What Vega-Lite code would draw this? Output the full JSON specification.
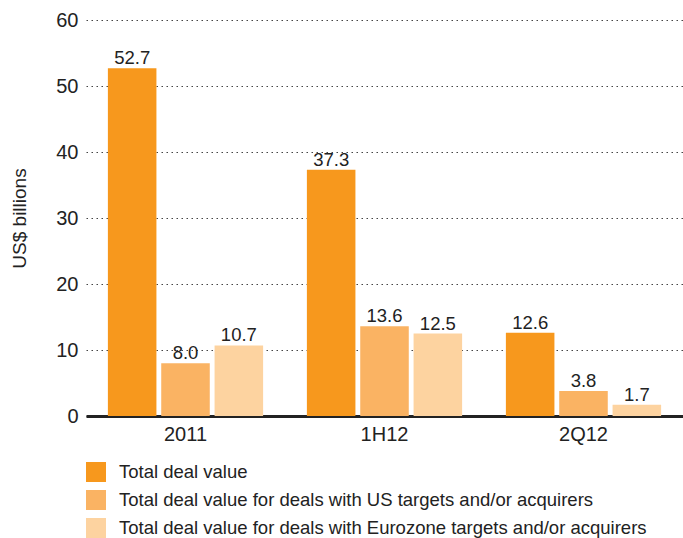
{
  "$schema": "https://vega.github.io/schema/vega-lite/v6.json",
  "width": 597,
  "height": 396,
  "autosize": "none",
  "padding": {"left": 86, "top": 20, "right": 0, "bottom": 122},
  "background": "white",
  "config": {
    "view": {"stroke": null},
    "font": "Liberation Sans"
  },
  "data": {
    "values": [
      {"period": "2011", "series": "Total deal value", "value": 52.7},
      {"period": "2011", "series": "Total deal value for deals with US targets and/or acquirers", "value": 8.0},
      {"period": "2011", "series": "Total deal value for deals with Eurozone targets and/or acquirers", "value": 10.7},
      {"period": "1H12", "series": "Total deal value", "value": 37.3},
      {"period": "1H12", "series": "Total deal value for deals with US targets and/or acquirers", "value": 13.6},
      {"period": "1H12", "series": "Total deal value for deals with Eurozone targets and/or acquirers", "value": 12.5},
      {"period": "2Q12", "series": "Total deal value", "value": 12.6},
      {"period": "2Q12", "series": "Total deal value for deals with US targets and/or acquirers", "value": 3.8},
      {"period": "2Q12", "series": "Total deal value for deals with Eurozone targets and/or acquirers", "value": 1.7}
    ]
  },
  "encoding": {
    "x": {
      "field": "period", "type": "nominal", "sort": ["2011", "1H12", "2Q12"],
      "scale": {"paddingInner": 0.22, "paddingOuter": 0.11},
      "axis": {"title": null, "labelAngle": 0, "labelFontSize": 20, "labelColor": "#222", "labelPadding": 8,
               "ticks": false, "domainColor": "#222", "domainWidth": 3}
    },
    "xOffset": {
      "field": "series", "type": "nominal",
      "sort": ["Total deal value", "Total deal value for deals with US targets and/or acquirers", "Total deal value for deals with Eurozone targets and/or acquirers"],
      "scale": {"paddingInner": 0.09}
    },
    "y": {
      "field": "value", "type": "quantitative",
      "scale": {"domain": [0, 60]},
      "axis": {"title": "US$ billions", "titleFontSize": 19, "titleFontWeight": "normal", "titleColor": "#222", "titlePadding": 26,
               "values": [0, 10, 20, 30, 40, 50, 60], "labelFontSize": 20, "labelColor": "#222", "labelPadding": 8,
               "ticks": false, "domain": false, "gridColor": "#444", "gridDash": [1.5, 3.5], "gridWidth": 1}
    }
  },
  "layer": [
    {
      "mark": {"type": "bar"},
      "encoding": {
        "color": {
          "field": "series", "type": "nominal",
          "sort": ["Total deal value", "Total deal value for deals with US targets and/or acquirers", "Total deal value for deals with Eurozone targets and/or acquirers"],
          "scale": {"range": ["#F7981D", "#FAB363", "#FDD3A0"]},
          "legend": {
            "title": null, "orient": "none", "legendX": 0, "legendY": 442, "direction": "vertical",
            "symbolType": "square", "symbolSize": 400, "symbolStrokeWidth": 0, "symbolOpacity": 1,
            "labelFontSize": 18.5, "labelColor": "#222", "labelLimit": 700, "rowPadding": 8, "labelOffset": 13
          }
        }
      }
    },
    {
      "mark": {"type": "text", "baseline": "alphabetic", "dy": -4, "fontSize": 18.5, "color": "#222"},
      "encoding": {
        "text": {"field": "value", "type": "quantitative", "format": ".1f"}
      }
    }
  ]
}
